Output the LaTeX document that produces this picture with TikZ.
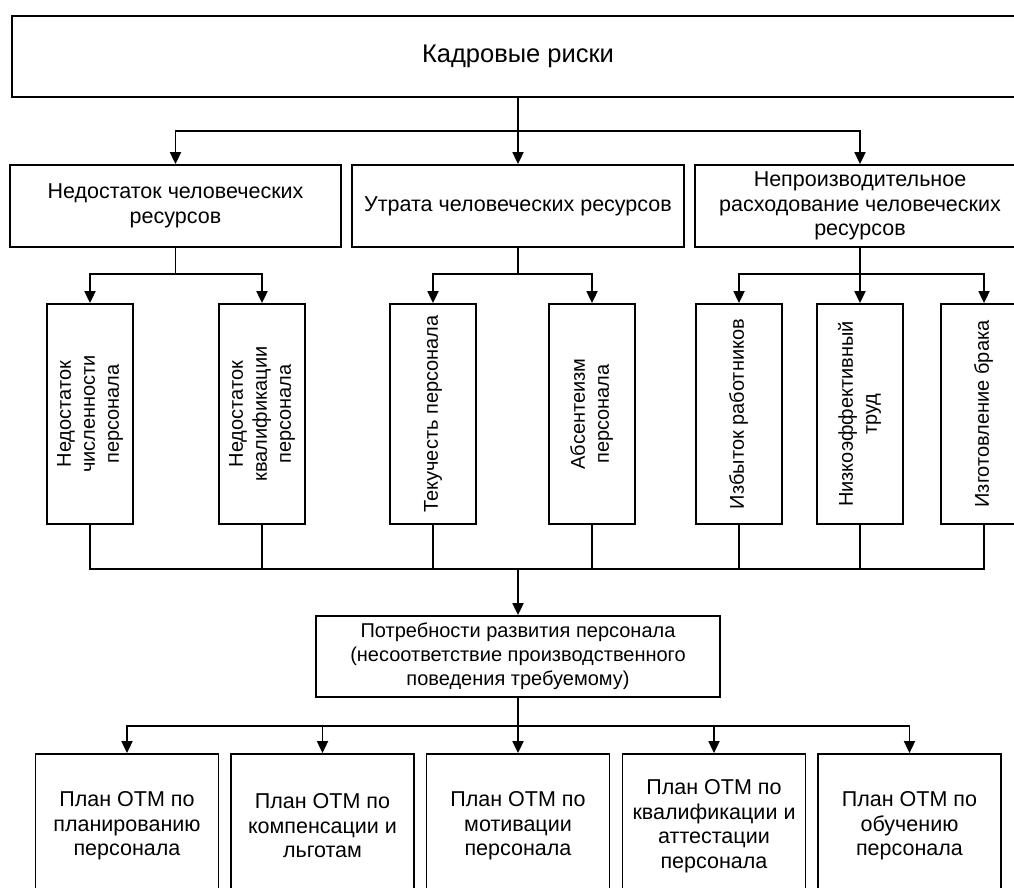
\documentclass[tikz,border=0pt]{standalone}
\usepackage{fontspec}
\usepackage{graphicx}
\setmainfont{Liberation Sans}
\usetikzlibrary{arrows.meta}
\newcommand\fsz{\fontsize{21.5}{24.5}\selectfont}
\newcommand\fsr{\fontsize{20}{24}\selectfont}
\newcommand\rtext[1]{\rotatebox{90}{\begin{tabular}{@{}c@{}}#1\end{tabular}}}
\begin{document}
\begin{tikzpicture}[x=1pt,y=-1pt,
  box/.style={draw, line width=1.8pt, inner sep=2pt, align=center, font=\fsz},
  vbox/.style={draw, line width=1.8pt, inner sep=0pt, minimum width=86pt, minimum height=220pt, font=\fsr},
  pbox/.style={box, minimum width=183pt, minimum height=144pt},
  ln/.style={line width=1.8pt},
  arr/.style={line width=1.8pt, -{Triangle[length=12pt,width=11pt]}}]
\useasboundingbox (0,0) rectangle (1014,888);
\fill[white] (0,0) rectangle (1014,888);
\clip (0,0) rectangle (1014,888);

% level 1
\node[box, minimum width=1012pt, minimum height=81pt, font=\fontsize{25.5}{28}\selectfont] (top) at (518,56.5) {Кадровые риски};

% level 2
\node[box, minimum width=331pt, minimum height=82pt] (l2a) at (175.5,206) {Недостаток человеческих\\ресурсов};
\node[box, minimum width=332pt, minimum height=82pt] (l2b) at (518,206) {Утрата человеческих ресурсов};
\node[box, minimum width=330pt, minimum height=82pt] (l2c) at (860,206) {Непроизводительное\\расходование человеческих\\ресурсов};

% level 3
\node[vbox] (n1) at (90,414) {\rtext{Недостаток\\численности\\персонала}};
\node[vbox] (n2) at (262,414) {\rtext{Недостаток\\квалификации\\персонала}};
\node[vbox] (n3) at (433,414) {\rtext{Текучесть персонала}};
\node[vbox] (n4) at (592,414) {\rtext{Абсентеизм\\персонала}};
\node[vbox] (n5) at (739,414) {\rtext{Избыток работников}};
\node[vbox] (n6) at (860,414) {\rtext{Низкоэффективный\\труд}};
\node[vbox] (n7) at (984,414) {\rtext{Изготовление брака}};

% level 4
\node[box, minimum width=404pt, minimum height=81pt, font=\fontsize{20}{24}\selectfont] (l4) at (518,656.5) {Потребности развития персонала\\(несоответствие производственного\\поведения требуемому)};

% level 5
\node[pbox] (m1) at (127,826) {План ОТМ по\\планированию\\персонала};
\node[pbox] (m2) at (322.5,826) {План ОТМ по\\компенсации и\\льготам};
\node[pbox] (m3) at (518,826) {План ОТМ по\\мотивации\\персонала};
\node[pbox] (m4) at (714,826) {План ОТМ по\\квалификации и\\аттестации\\персонала};
\node[pbox] (m5) at (909.5,826) {План ОТМ по\\обучению\\персонала};

% connectors level 1 -> 2
\coordinate (j1) at (518,131);
\draw[arr] (top.south) -- (l2b.north);
\draw[arr] (j1) -| (l2a.north);
\draw[arr] (j1) -| (l2c.north);

% level 2 -> 3
\coordinate (j2a) at (175.5,274);
\coordinate (j2b) at (518,274);
\coordinate (j2c) at (860,274);
\draw[ln] (l2a.south) -- (j2a);
\draw[arr] (j2a) -| (n1.north);
\draw[arr] (j2a) -| (n2.north);
\draw[ln] (l2b.south) -- (j2b);
\draw[arr] (j2b) -| (n3.north);
\draw[arr] (j2b) -| (n4.north);
\draw[arr] (l2c.south) -- (n6.north);
\draw[arr] (j2c) -| (n5.north);
\draw[arr] (j2c) -| (n7.north);

% level 3 -> 4
\coordinate (j3) at (518,569);
\draw[ln] (n1.south) |- (j3) -| (n7.south);
\foreach \n in {n2,n3,n4,n5,n6} \draw[ln] (\n.south) -- (\n.south |- j3);
\draw[arr] (j3) -- (l4.north);

% level 4 -> 5
\coordinate (j4) at (518,726);
\draw[arr] (l4.south) -- (m3.north);
\draw[arr] (j4) -| (m1.north);
\draw[arr] (j4) -| (m2.north);
\draw[arr] (j4) -| (m4.north);
\draw[arr] (j4) -| (m5.north);
\end{tikzpicture}
\end{document}
